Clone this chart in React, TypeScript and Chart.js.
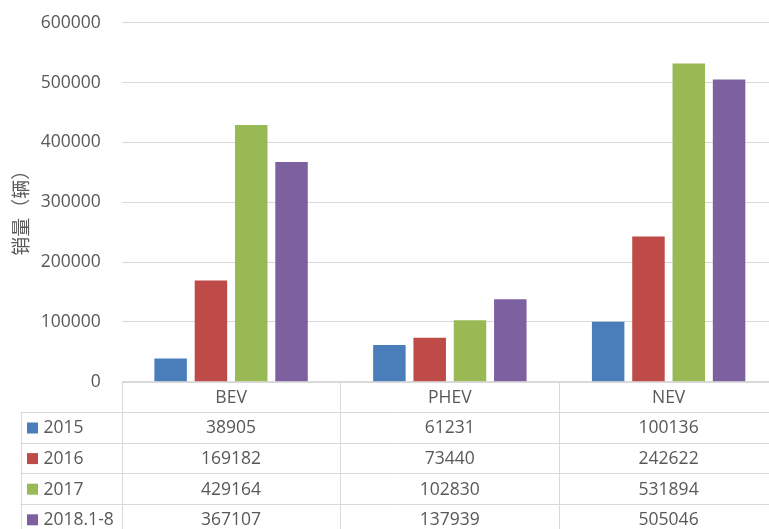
import React, { useEffect, useRef } from "react";
import { Chart, registerables } from "chart.js";

Chart.register(...registerables);

const categories = ["BEV", "PHEV", "NEV"];
const seriesLabels = ["2015", "2016", "2017", "2018.1-8"];
const values2015 = [38905, 61231, 100136];
const values2016 = [169182, 73440, 242622];
const values2017 = [429164, 102830, 531894];
const values2018 = [367107, 137939, 505046];
const seriesColors = ["#4a7ebb", "#be4b48", "#98b954", "#7d60a0"];
const yMin = 0;
const yMax = 600000;
const yStep = 100000;
const yTitle = "销量（辆）";

const TEXT = "#595959";
const GRID = "#d9d9d9";
const FONT = "'Open Sans', 'Noto Sans', sans-serif";
const CJK = "'Noto Sans CJK SC', sans-serif";
const FS = 17.5;

const tablePlugin = {
  id: "dataTable",
  afterDraw(chart: any) {
    const ctx = chart.ctx as CanvasRenderingContext2D;
    const area = chart.chartArea;
    const x = chart.scales.x;
    const n = categories.length;
    const colW = (area.right - area.left) / n;
    const top = area.bottom;
    const headerH = 30.5;
    const rowH = 30.6;
    const tableLeft = 20.5;
    const all = [values2015, values2016, values2017, values2018];
    const bottom = top + headerH + rowH * all.length;

    ctx.save();
    // y axis title
    ctx.save();
    ctx.translate(21, (area.top + area.bottom) / 2 + 6);
    ctx.rotate(-Math.PI / 2);
    ctx.fillStyle = TEXT;
    ctx.font = `19px ${CJK}`;
    ctx.textAlign = "center";
    ctx.textBaseline = "middle";
    ctx.fillText(yTitle, 0, 0);
    ctx.restore();

    ctx.strokeStyle = GRID;
    ctx.lineWidth = 1;
    ctx.beginPath();
    ctx.moveTo(area.left, Math.round(top) + 0.5);
    ctx.lineTo(area.right, Math.round(top) + 0.5);
    for (let r = 0; r <= all.length; r++) {
      const yy = Math.round(top + headerH + rowH * r) + 0.5;
      ctx.moveTo(tableLeft, yy);
      ctx.lineTo(area.right, yy);
    }
    ctx.moveTo(Math.round(tableLeft) + 0.5, top + headerH);
    ctx.lineTo(Math.round(tableLeft) + 0.5, bottom);
    for (let c = 0; c <= n; c++) {
      const xx = Math.round(area.left + colW * c) + 0.5;
      ctx.moveTo(xx, top);
      ctx.lineTo(xx, bottom);
    }
    ctx.stroke();

    ctx.fillStyle = TEXT;
    ctx.font = `${FS}px ${FONT}`;
    ctx.textBaseline = "middle";
    ctx.textAlign = "center";
    categories.forEach((cat, i) => {
      ctx.fillText(cat, x.getPixelForValue(i), top + headerH / 2 + 1);
    });
    all.forEach((vals, r) => {
      const cy = top + headerH + rowH * r + rowH / 2 + 1;
      ctx.textAlign = "center";
      ctx.fillStyle = TEXT;
      vals.forEach((v, i) => {
        ctx.fillText(String(v), x.getPixelForValue(i), cy);
      });
      ctx.fillStyle = seriesColors[r];
      ctx.fillRect(27, cy - 6, 11, 11);
      ctx.fillStyle = TEXT;
      ctx.textAlign = "left";
      ctx.fillText(seriesLabels[r], 43.5, cy);
    });
    ctx.restore();
  },
};

export default function App() {
  const ref = useRef<HTMLCanvasElement | null>(null);
  useEffect(() => {
    if (!ref.current) return;
    const all = [values2015, values2016, values2017, values2018];
    const chart = new Chart(ref.current, {
      type: "bar",
      data: {
        labels: categories,
        datasets: all.map((vals, i) => ({
          label: seriesLabels[i],
          data: vals,
          backgroundColor: seriesColors[i],
          borderWidth: 0,
          categoryPercentage: 0.737,
          barPercentage: 0.806,
        })),
      },
      options: {
        responsive: false,
        animation: false,
        layout: { padding: { top: 22.7, bottom: 147.3, left: 0, right: 2 } },
        plugins: {
          legend: { display: false },
          tooltip: { enabled: false },
        },
        scales: {
          x: { display: false },
          y: {
            min: yMin,
            max: yMax,
            ticks: {
              stepSize: yStep,
              color: TEXT,
              font: { family: FONT, size: FS },
              padding: 21,
              callback: (v: any) => String(v),
            },
            grid: { color: GRID, drawTicks: false },
            border: { display: false },
            afterFit: (scale: any) => {
              scale.width = 121.7;
              scale.paddingTop = 0;
              scale.paddingBottom = 0;
            },
          },
        },
      },
      plugins: [tablePlugin],
    });
    return () => chart.destroy();
  }, []);
  return (
    <div
      style={{
        position: "fixed",
        left: 0,
        top: 0,
        width: 769,
        height: 529,
        overflow: "hidden",
        background: "#fff",
      }}
    >
      <canvas ref={ref} width={780} height={529} style={{ display: "block" }} />
    </div>
  );
}
